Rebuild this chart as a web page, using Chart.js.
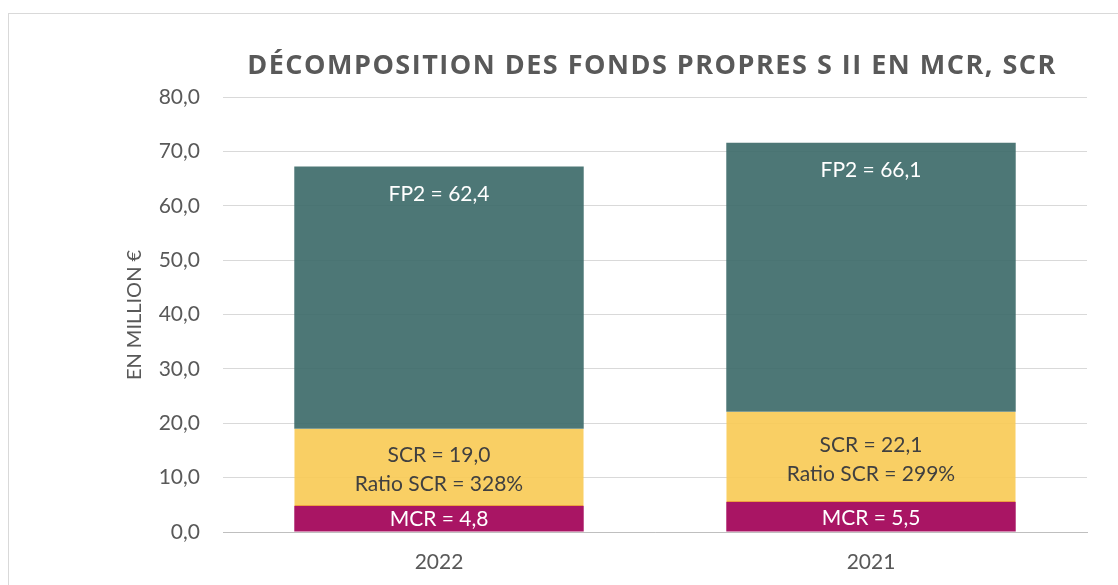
<!DOCTYPE html>
<html><head><meta charset="utf-8">
<script src="https://cdn.jsdelivr.net/npm/chart.js@4.4.0/dist/chart.umd.min.js"></script>
<style>
html,body{margin:0;padding:0;background:#fff;overflow:hidden;}
#wrap{position:absolute;left:0;top:0;width:1118px;height:585px;}
#frame{position:absolute;left:8px;top:13px;width:1120px;height:600px;border-left:1px solid #d9d9d9;border-top:1px solid #d9d9d9;box-sizing:border-box;}
canvas{position:absolute;left:0;top:0;}
</style></head>
<body>
<div id="wrap"><div id="frame"></div><canvas id="c" width="1118" height="585"></canvas></div>
<script>
const categories = ['2022', '2021'];
const mcr = [4.8, 5.5];
const scr = [19.0, 22.1];
const fp2 = [62.4, 66.1];
const ratioScr = [328, 299];
const yTicks = [0, 10, 20, 30, 40, 50, 60, 70, 80];
const title = 'DÉCOMPOSITION DES FONDS PROPRES S II EN MCR, SCR';
const yTitle = 'EN MILLION €';

const FONT = 'Lato, "Open Sans", sans-serif';
const fmt = v => v.toFixed(1).replace('.', ',');

const segMcr = mcr.slice();
const segScr = scr.map((v, i) => +(v - mcr[i]).toFixed(1));
const segFp = fp2.map((v, i) => +(v + mcr[i] - scr[i]).toFixed(1));

const labelPlugin = {
  id: 'labels',
  afterDatasetsDraw(chart) {
    const ctx = chart.ctx;
    ctx.save();
    ctx.textAlign = 'center';
    ctx.textBaseline = 'middle';
    const m0 = chart.getDatasetMeta(0), m1 = chart.getDatasetMeta(1), m2 = chart.getDatasetMeta(2);
    categories.forEach((c, i) => {
      const b0 = m0.data[i], b1 = m1.data[i], b2 = m2.data[i];
      ctx.font = '21px ' + FONT;
      ctx.fillStyle = '#ffffff';
      ctx.fillText('MCR = ' + fmt(mcr[i]), b0.x, (b0.y + b0.base) / 2 + 1);
      ctx.fillStyle = '#404040';
      const cy = (b1.y + b1.base) / 2 + 2;
      ctx.fillText('SCR = ' + fmt(scr[i]), b1.x, cy - 14);
      ctx.fillText('Ratio SCR = ' + ratioScr[i] + '%', b1.x, cy + 15);
      ctx.fillStyle = '#ffffff';
      ctx.fillText('FP2 = ' + fmt(fp2[i]), b2.x, b2.y + 28);
    });
    ctx.fillStyle = '#595959';
    ctx.font = 'bold 27px "Open Sans", sans-serif';
    try { ctx.letterSpacing = '1.5px'; } catch (e) {}
    ctx.fillText(title, 652, 66);
    try { ctx.letterSpacing = '0px'; } catch (e) {}
    ctx.translate(135, 315);
    ctx.rotate(-Math.PI / 2);
    ctx.font = '20px ' + FONT;
    ctx.fillStyle = '#595959';
    ctx.fillText(yTitle, 0, 0);
    ctx.restore();
  }
};

new Chart(document.getElementById('c'), {
  type: 'bar',
  data: {
    labels: categories,
    datasets: [
      { label: 'MCR', data: segMcr, backgroundColor: '#a91564', borderWidth: 0 },
      { label: 'SCR', data: segScr, backgroundColor: 'rgba(248,202,83,0.9)',
        borderColor: '#eea040', borderWidth: {top: 0, left: 0, right: 0, bottom: 1}, borderSkipped: false },
      { label: 'FP2', data: segFp, backgroundColor: 'rgba(58,104,103,0.9)', borderWidth: 0 }
    ]
  },
  options: {
    responsive: false,
    animation: false,
    devicePixelRatio: 1,
    layout: { padding: { left: 0, right: 31, top: 97, bottom: 0 } },
    plugins: { legend: { display: false }, tooltip: { enabled: false }, title: { display: false } },
    datasets: { bar: { categoryPercentage: 1, barPercentage: 0.67 } },
    scales: {
      x: {
        stacked: true,
        grid: { display: false, drawTicks: false },
        border: { display: true, color: '#bfbfbf', width: 1 },
        ticks: { color: '#595959', font: { family: FONT, size: 21 }, padding: 18 },
        afterFit(s) { s.height = 53; }
      },
      y: {
        stacked: true,
        min: 0, max: 80,
        afterBuildTicks(s) { s.ticks = yTicks.map(v => ({ value: v })); },
        grid: { color: '#d9d9d9', drawTicks: false, lineWidth: 1 },
        border: { display: false },
        ticks: { color: '#595959', font: { family: FONT, size: 21 }, padding: 23, callback: v => fmt(v) },
        afterFit(s) { s.width = 223; }
      }
    }
  },
  plugins: [labelPlugin]
});
</script>
</body></html>
